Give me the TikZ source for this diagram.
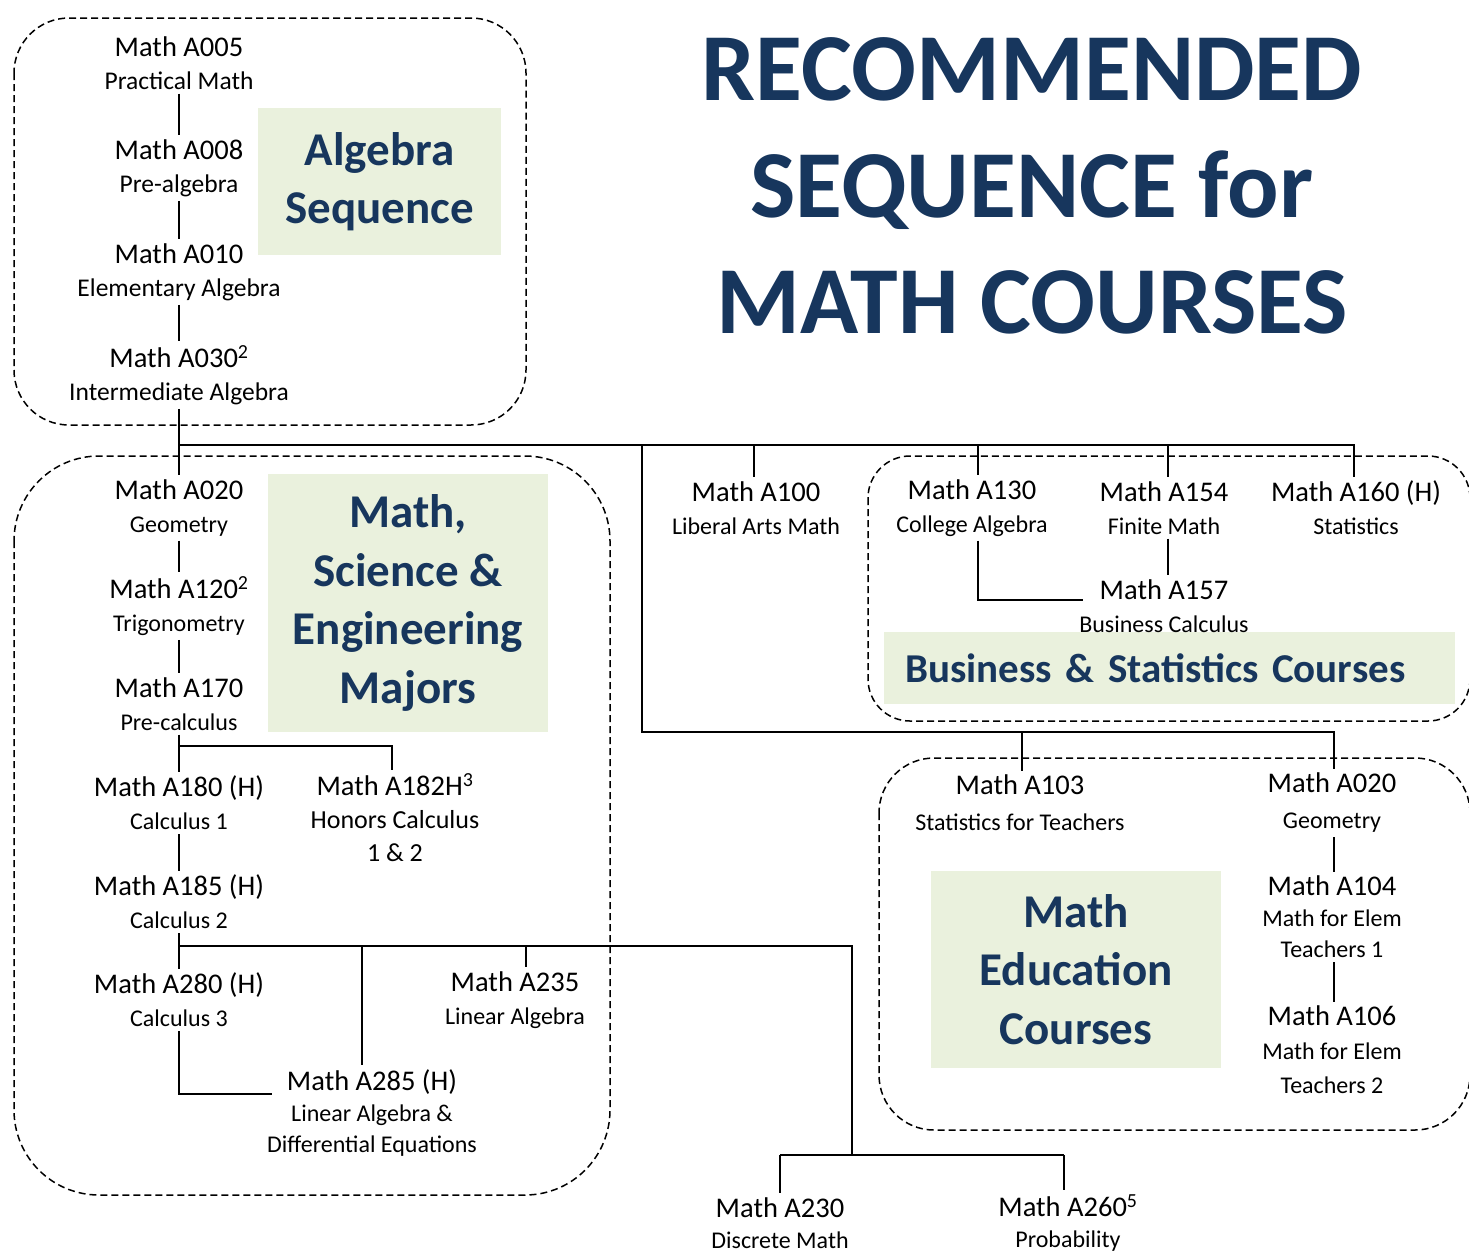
\documentclass[tikz,border=0pt]{standalone}
\usepackage{fontspec}
\setmainfont{Carlito}
\definecolor{navy}{HTML}{17365D}
\definecolor{boxgreen}{HTML}{EAF1DD}
\newcommand\hd[1]{{\fontsize{28.5}{33}\selectfont #1}}
\tikzset{
  course/.style={align=center, inner xsep=2pt, inner ysep=4pt, font=\fontsize{24}{33}\selectfont},
  topcourse/.style={course, font=\fontsize{25.5}{33}\selectfont},
  link/.style={line width=1.6pt},
  grp/.style={line width=1.5pt, dash pattern=on 7pt off 4pt},
  grplabel/.style={fill=boxgreen, text=navy, inner sep=0pt, align=center,
    font=\bfseries\fontsize{47}{58.5}\selectfont},
  titleline/.style={anchor=base, text=navy, inner sep=0pt, font=\bfseries\fontsize{96}{117}\selectfont}
}
\begin{document}
\begin{tikzpicture}[x=1pt,y=-1pt]
\useasboundingbox (0,0) rectangle (1469,1254);
\clip (0,0) rectangle (1469,1254);
\fill[white] (0,0) rectangle (1469,1254);

% dashed group frames
\draw[grp, rounded corners=55pt] (14,18) rectangle (526,425);
\draw[grp, rounded corners=85pt] (14,456) rectangle (610,1195);
\draw[grp, rounded corners=42pt] (868,456) rectangle (1470,721);
\draw[grp, rounded corners=55pt] (879,758) rectangle (1470,1130);

% title
\node[titleline] (t1) at (1032,100) {RECOMMENDED};
\node[titleline] (t2) at (1032,217) {SEQUENCE for};
\node[titleline] (t3) at (1032,333) {MATH COURSES};

% group labels
\node[grplabel, minimum width=243pt, minimum height=147pt] (lalg) at (379.5,181.5) {Algebra\\Sequence};
\node[grplabel, minimum width=280pt, minimum height=258pt] (lmse) at (408,603) {Math,\\Science \&\\Engineering\\Majors};
\node[grplabel, font=\bfseries\fontsize{41}{48}\selectfont, minimum height=72pt, text width=529pt, inner xsep=21pt, align=left] (lbus) at (1169.5,668) {Business \& Statistics Courses};
\node[grplabel, minimum width=290pt, minimum height=197pt] (ledu) at (1076,969.5) {Math\\Education\\Courses};

% algebra sequence
\node[topcourse] (a005) at (179,63) {\hd{Math A005}\\Practical Math};
\node[topcourse] (a008) at (179,168) {\hd{Math A008}\\Pre-algebra};
\node[topcourse] (a010) at (179,272) {\hd{Math A010}\\Elementary Algebra};
\node[topcourse] (a030) at (179,375) {\hd{Math A030\textsuperscript{2}}\\Intermediate Algebra};

% math, science & engineering
\node[course] (m020) at (179,508) {\hd{Math A020}\\Geometry};
\node[course] (a120) at (179,606) {\hd{Math A120\textsuperscript{2}}\\Trigonometry};
\node[course] (a170) at (179,704) {\hd{Math A170}\\Pre-calculus};
\node[course] (a180) at (179,803) {\hd{Math A180 (H)}\\Calculus 1};
\node[course, font=\fontsize{26}{33}\selectfont] (a182) at (395,818) {\hd{Math A182H\textsuperscript{3}}\\Honors Calculus\\1 \& 2};
\node[course] (a185) at (179,902) {\hd{Math A185 (H)}\\Calculus 2};
\node[course] (a280) at (179,1000) {\hd{Math A280 (H)}\\Calculus 3};
\node[course] (a235) at (515,1000) {\hd{Math A235}\\Linear Algebra};
\node[course, font=\fontsize{24}{31}\selectfont] (a285) at (372,1113) {\hd{Math A285 (H)}\\Linear Algebra \&\\Differential Equations};

% business & statistics
\node[course] (a100) at (756,508) {\hd{Math A100}\\Liberal Arts Math};
\node[course] (a130) at (972,508) {\hd{Math A130}\\College Algebra};
\node[course] (a154) at (1164,508) {\hd{Math A154}\\Finite Math};
\node[course] (a160) at (1356,508) {\hd{Math A160 (H)}\\Statistics};
\node[course] (a157) at (1164,606) {\hd{Math A157}\\Business Calculus};

% math education
\node[course, font=\fontsize{24}{36}\selectfont] (a103) at (1020,803) {\hd{Math A103}\\Statistics for Teachers};
\node[course, font=\fontsize{24}{36}\selectfont] (e020) at (1332,803) {\hd{Math A020}\\Geometry};
\node[course, font=\fontsize{24}{31}\selectfont] (a104) at (1332,917) {\hd{Math A104}\\Math for Elem\\Teachers 1};
\node[course, font=\fontsize{24}{34}\selectfont] (a106) at (1332,1050) {\hd{Math A106}\\Math for Elem\\Teachers 2};

% bottom
\node[course, font=\fontsize{24}{31}\selectfont] (a230) at (780,1223) {\hd{Math A230}\\Discrete Math};
\node[course, font=\fontsize{24}{31}\selectfont] (a260) at (1068,1223) {\hd{Math A260\textsuperscript{5}}\\Probability};

% junction coordinates
\coordinate (bus) at (178,445);
\coordinate (busE) at (1354,445);
\coordinate (c100) at (754,445);
\coordinate (c130) at (978,445);
\coordinate (c154) at (1168,445);
\coordinate (c642) at (642,445);
\coordinate (edubus) at (642,732);
\coordinate (c103) at (1022,732);
\coordinate (c020) at (1334,732);
\coordinate (k157) at (1083,600);
\coordinate (k182) at (392,746);
\coordinate (b2) at (178,946);
\coordinate (k285) at (362,946);
\coordinate (k235) at (526,946);
\coordinate (k852) at (852,946);
\coordinate (b3) at (852,1155);
\coordinate (k230) at (780,1155);
\coordinate (k260) at (1064,1155);
\coordinate (k285a) at (272,1094);

% connectors
\draw[link] (a005.south) -- (a008.north);
\draw[link] (a008.south) -- (a010.north);
\draw[link] (a010.south) -- (a030.north);
\draw[link] (a030.south) -- (m020.north);
\draw[link] (bus) -- (busE) -- (busE |- a160.north);
\draw[link] (c100) -- (c100 |- a100.north);
\draw[link] (c130) -- (c130 |- a130.north);
\draw[link] (c154) -- (c154 |- a154.north);
\draw[link] (c130 |- a130.south) |- (k157);
\draw[link] (c154 |- a154.south) -- (c154 |- a157.north);
\draw[link] (c642) -- (edubus) -- (c020) -- (c020 |- e020.north);
\draw[link] (c103) -- (c103 |- a103.north);
\draw[link] (c020 |- e020.south) -- (c020 |- a104.north);
\draw[link] (c020 |- a104.south) -- (c020 |- a106.north);

\draw[link] (m020.south) -- (a120.north);
\draw[link] (a120.south) -- (a170.north);
\draw[link] (a170.south) -- (a180.north);
\draw[link] (a170.south |- k182) -| (k182 |- a182.north);
\draw[link] (a180.south) -- (a185.north);
\draw[link] (a185.south) -- (a280.north);
\draw[link] (b2) -- (k852) -- (b3);
\draw[link] (k285) -- (k285 |- a285.north);
\draw[link] (k235) -- (k235 |- a235.north);
\draw[link] (a280.south) |- (k285a);
\draw[link] (k230) -- (k260);
\draw[link] (k230) -- (k230 |- a230.north);
\draw[link] (k260) -- (k260 |- a260.north);
\end{tikzpicture}
\end{document}
